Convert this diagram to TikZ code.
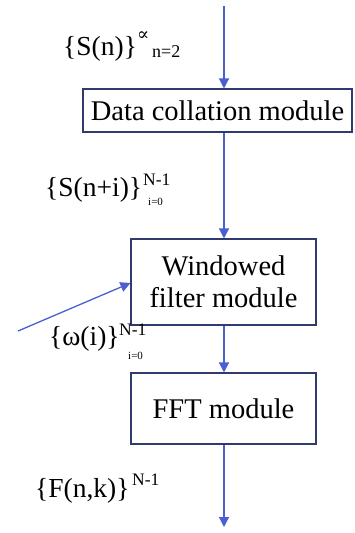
\documentclass[tikz,border=0pt]{standalone}
\usepackage{fontspec}
\setmainfont{Liberation Serif}
\newfontfamily\symfont{DejaVu Serif}
\usetikzlibrary{arrows.meta}
\definecolor{arrowblue}{HTML}{4A5FD0}
\definecolor{boxnavy}{HTML}{2F3A6E}
\begin{document}
\begin{tikzpicture}[x=1pt,y=-1pt,
  modbox/.style={draw=boxnavy, line width=1.1pt, fill=white, inner sep=0pt, align=center,
    font=\fontsize{28.5}{32}\selectfont, text=black},
  flow/.style={draw=arrowblue, line width=1.3pt, -{Triangle[width=10pt,length=10pt]}},
  mainlbl/.style={anchor=base west, inner sep=0pt, font=\fontsize{27.5}{32}\selectfont},
  suplbl/.style={anchor=base west, inner sep=0pt, text depth=0pt, font=\fontsize{17.5}{20}\selectfont},
  sublbl/.style={anchor=base west, inner sep=0pt, text height=7.5pt, font=\fontsize{11}{13}\selectfont}]
\useasboundingbox (0,0) rectangle (355,533);
% modules
\node[modbox, minimum width=269pt, minimum height=43pt] (b1) at (217.5,110.5) {Data collation module};
\node[modbox, minimum width=185pt, minimum height=86pt] (b2) at (223.5,282) {Windowed\\filter module};
\node[modbox, minimum width=185pt, minimum height=71pt] (b3) at (223.5,408.5) {FFT module};
% free ends
\coordinate (top) at (224,6);
\coordinate (bottom) at (224,527);
\coordinate (win) at (18,331);
% connectors
\draw[flow] (top) -- (top |- b1.north);
\draw[flow] (top |- b1.south) -- (top |- b2.north);
\draw[flow] (top |- b2.south) -- (top |- b3.north);
\draw[flow] (top |- b3.south) -- (bottom);
\draw[flow] (win) -- ([yshift=-1pt]b2.west);
% labels
\node[mainlbl] (l1) at (63,55) {\{S(n)\}};
\node[anchor=base west, inner sep=0pt, font=\fontsize{18}{20}\symfont] (l1sup) at (137,40) {∝};
\node[anchor=base west, inner sep=0pt, font=\fontsize{18}{20}\selectfont] (l1sub) at (152,57) {n=2};
\node[mainlbl] (l2) at (45,196) {\{S(n+i)\}};
\node[suplbl] (l2sup) at (143,185) {N-1};
\node[sublbl] (l2sub) at (148,205) {i=0};
\node[mainlbl] (l3) at (49,345) {\{ω(i)\}};
\node[suplbl] (l3sup) at (119,335) {N-1};
\node[sublbl] (l3sub) at (128,359) {i=0};
\node[mainlbl] (l4) at (35,497) {\{F(n,k)\}};
\node[suplbl] (l4sup) at (132,485) {N-1};
\end{tikzpicture}
\end{document}
